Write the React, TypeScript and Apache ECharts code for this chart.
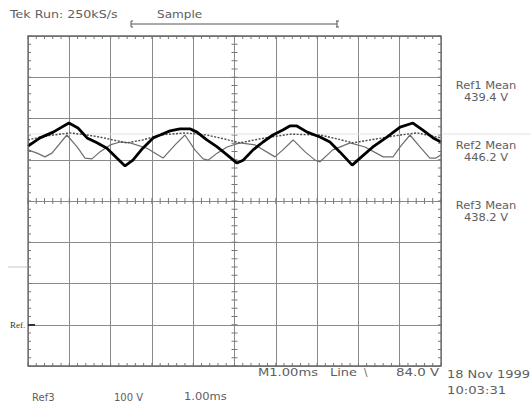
import React, { useEffect, useRef } from "react";
import * as echarts from "echarts";

// time in ms (1 ms/div), amplitude in V (100 V/div)
const ref1X = [0, 0.29, 0.61, 0.99, 1.21, 1.43, 1.67, 1.91, 2.15, 2.35, 2.54, 2.78, 3.03, 3.2, 3.44, 3.68, 3.92, 4.09, 4.33, 4.58, 4.82, 5.06, 5.21, 5.45, 5.69, 5.93, 6.17, 6.34, 6.51, 6.76, 7.07, 7.31, 7.55, 7.85, 8.04, 8.35, 8.69, 9.01, 9.32, 9.56, 9.81, 10];
const ref1Y = [133, 153, 167, 189, 177, 153, 141, 128, 104, 85, 99, 128, 153, 160, 170, 175, 175, 167, 148, 131, 112, 92, 99, 124, 143, 160, 172, 182, 182, 167, 155, 143, 119, 87, 104, 131, 155, 179, 189, 172, 153, 143];

const ref2X = [0, 0.29, 0.61, 1.02, 1.43, 1.74, 2.06, 2.4, 2.78, 3.2, 3.8, 4.33, 4.77, 5.13, 5.74, 6.34, 7.07, 7.51, 7.87, 8.4, 9.01, 9.42, 9.9, 10];
const ref2Y = [148, 155, 160, 165, 160, 155, 148, 141, 148, 160, 165, 160, 150, 141, 153, 162, 160, 150, 141, 150, 160, 165, 155, 153];

const ref3X = [0, 0.22, 0.41, 0.58, 0.94, 1.19, 1.38, 1.55, 1.74, 1.99, 2.23, 2.47, 2.88, 3.27, 3.56, 3.8, 4.04, 4.24, 4.36, 4.58, 4.82, 5.13, 5.5, 5.98, 6.17, 6.42, 6.71, 6.95, 7.07, 7.38, 7.8, 8.16, 8.6, 8.84, 9.01, 9.25, 9.49, 9.73, 9.88, 10];
const ref3Y = [124, 116, 107, 116, 160, 131, 104, 102, 119, 136, 143, 141, 128, 104, 136, 160, 124, 102, 99, 116, 131, 141, 136, 107, 124, 148, 119, 99, 95, 124, 141, 131, 107, 107, 131, 160, 131, 104, 104, 112];

const xMin = 0, xMax = 10, xStep = 1;
const yMin = -400, yMax = 400, yStep = 100;

const rightLabels = [
  { name: "Ref1 Mean", value: "439.4 V" },
  { name: "Ref2 Mean", value: "446.2 V" },
  { name: "Ref3 Mean", value: "438.2 V" },
];
const headerLeft = "Tek Run: 250kS/s";
const headerMode = "Sample";
const footerMid = ["M1.00ms", "Line", "\\", "84.0 V"];
const footerDate = ["18 Nov 1999", "10:03:31"];
const footerRef = ["Ref3", "100 V", "1.00ms"];

function zip(xs: number[], ys: number[]) {
  return xs.map((x, i) => [x, ys[i]]);
}

export default function App() {
  const ref = useRef<HTMLDivElement>(null);
  useEffect(() => {
    if (!ref.current) return;
    const chart = echarts.init(ref.current, undefined, { renderer: "svg" });
    // ruler tick marks (axis decorations)
    const tickData: number[][] = [];
    for (let i = 0; i <= 50; i++) {
      const x = xMin + (i * (xMax - xMin)) / 50;
      tickData.push([x, yMax, 0]);
      tickData.push([x, yMin, 1]);
      tickData.push([x, 0, 2]);
    }
    for (let i = 0; i <= 40; i++) {
      const y = yMin + (i * (yMax - yMin)) / 40;
      tickData.push([xMin, y, 3]);
      tickData.push([xMax, y, 4]);
      tickData.push([5, y, 5]);
    }
    const gridColor = "#8a8a8a";
    const textColor = "#5e5e5e";
    const font = "DejaVu Sans";
    const txt = (text: string, x: number, y: number, size: number, sx: number, align = "left", color = textColor) => ({
      type: "text",
      x,
      y,
      scaleX: sx,
      silent: true,
      z: 20,
      style: { text, fill: color, font: `${size}px "${font}"`, textAlign: align, textVerticalAlign: "middle" },
    });
    chart.setOption({
      animation: false,
      backgroundColor: "#ffffff",
      grid: { left: 28, top: 36, width: 413, height: 330, show: false },
      xAxis: {
        type: "value",
        min: xMin,
        max: xMax,
        interval: xStep,
        axisLine: { show: false },
        axisTick: { show: false },
        axisLabel: { show: false },
        splitLine: { show: true, lineStyle: { color: gridColor, width: 1 } },
      },
      yAxis: {
        type: "value",
        min: yMin,
        max: yMax,
        interval: yStep,
        axisLine: { show: false },
        axisTick: { show: false },
        axisLabel: { show: false },
        splitLine: { show: true, lineStyle: { color: gridColor, width: 1 } },
      },
      series: [
        {
          type: "custom",
          silent: true,
          data: tickData,
          z: 1,
          renderItem: (params: any, api: any) => {
            const p = api.coord([api.value(0), api.value(1)]);
            const k = api.value(2);
            const L = 3;
            let shape;
            if (k === 0) shape = { x1: p[0], y1: p[1], x2: p[0], y2: p[1] + L };
            else if (k === 1) shape = { x1: p[0], y1: p[1], x2: p[0], y2: p[1] - L };
            else if (k === 2) shape = { x1: p[0], y1: p[1] - L, x2: p[0], y2: p[1] + L };
            else if (k === 3) shape = { x1: p[0], y1: p[1], x2: p[0] + L, y2: p[1] };
            else if (k === 4) shape = { x1: p[0], y1: p[1], x2: p[0] - L, y2: p[1] };
            else shape = { x1: p[0] - L, y1: p[1], x2: p[0] + L, y2: p[1] };
            return { type: "line", shape, style: { stroke: "#777", lineWidth: 1 } };
          },
        },
        {
          type: "line",
          name: "Ref3",
          data: zip(ref3X, ref3Y),
          symbol: "none",
          z: 3,
          lineStyle: { color: "#6e6e6e", width: 1.2 },
        },
        {
          type: "line",
          name: "Ref2",
          data: zip(ref2X, ref2Y),
          symbol: "none",
          z: 4,
          lineStyle: { color: "#4a4a4a", width: 1.4, type: [2, 1.5] },
        },
        {
          type: "line",
          name: "Ref1",
          data: zip(ref1X, ref1Y),
          symbol: "none",
          z: 5,
          lineStyle: { color: "#000", width: 2.8 },
        },
      ],
      graphic: [
        // outer border
        { type: "rect", shape: { x: 28, y: 36, width: 413, height: 330 }, style: { fill: "none", stroke: "#6a6a6a", lineWidth: 1.3 }, silent: true, z: 10 },
        // faint cursor line
        { type: "line", shape: { x1: 28, y1: 134, x2: 531, y2: 134 }, style: { stroke: "#e2e2e2", lineWidth: 1 }, silent: true, z: 2 },
        { type: "line", shape: { x1: 8, y1: 267, x2: 27, y2: 267 }, style: { stroke: "#c8c8c8", lineWidth: 1 }, silent: true },
        { type: "line", shape: { x1: 28, y1: 325, x2: 35, y2: 325 }, style: { stroke: "#333", lineWidth: 2 }, silent: true, z: 10 },
        { type: "text", x: 10, y: 325, silent: true, style: { text: "Ref.", fill: "#333", font: '9px "Liberation Serif"', textVerticalAlign: "middle" } },
        // header
        txt(headerLeft, 10, 14, 11, 1.15),
        txt(headerMode, 157, 14, 11, 1.1),
        { type: "polyline", shape: { points: [[133, 21], [131, 21], [131, 27], [133, 27]] }, style: { stroke: "#555", fill: "none", lineWidth: 1 }, silent: true },
        { type: "line", shape: { x1: 131, y1: 24, x2: 337, y2: 24 }, style: { stroke: "#555", lineWidth: 1 }, silent: true },
        { type: "line", shape: { x1: 337, y1: 21, x2: 337, y2: 27 }, style: { stroke: "#555", lineWidth: 1 }, silent: true },
        { type: "line", shape: { x1: 336, y1: 21, x2: 339, y2: 21 }, style: { stroke: "#555", lineWidth: 1 }, silent: true },
        { type: "line", shape: { x1: 336, y1: 27, x2: 339, y2: 27 }, style: { stroke: "#555", lineWidth: 1 }, silent: true },
        // right labels
        txt(rightLabels[0].name, 486, 86, 11, 1.04, "center"),
        txt(rightLabels[0].value, 486, 98, 11, 1.04, "center"),
        txt(rightLabels[1].name, 486, 146, 11, 1.04, "center"),
        txt(rightLabels[1].value, 486, 158, 11, 1.04, "center"),
        txt(rightLabels[2].name, 486, 206, 11, 1.04, "center"),
        txt(rightLabels[2].value, 486, 218, 11, 1.04, "center"),
        // footer
        txt(footerMid[0], 258, 372, 11, 1.19),
        txt(footerMid[1], 330, 372, 11, 1.18),
        txt(footerMid[2], 364, 372, 10, 1),
        txt(footerMid[3], 396, 372, 11, 1.22),
        txt(footerDate[0], 447, 374, 11, 1.18),
        txt(footerDate[1], 447, 390, 11, 1.2),
        txt(footerRef[0], 32, 397, 10, 1),
        txt(footerRef[1], 114, 397, 10, 1),
        txt(footerRef[2], 184, 397, 10, 1.15),
      ],
    });
    return () => chart.dispose();
  }, []);
  return <div ref={ref} style={{ width: 531, height: 402, position: "absolute", left: 0, top: 0 }} />;
}
